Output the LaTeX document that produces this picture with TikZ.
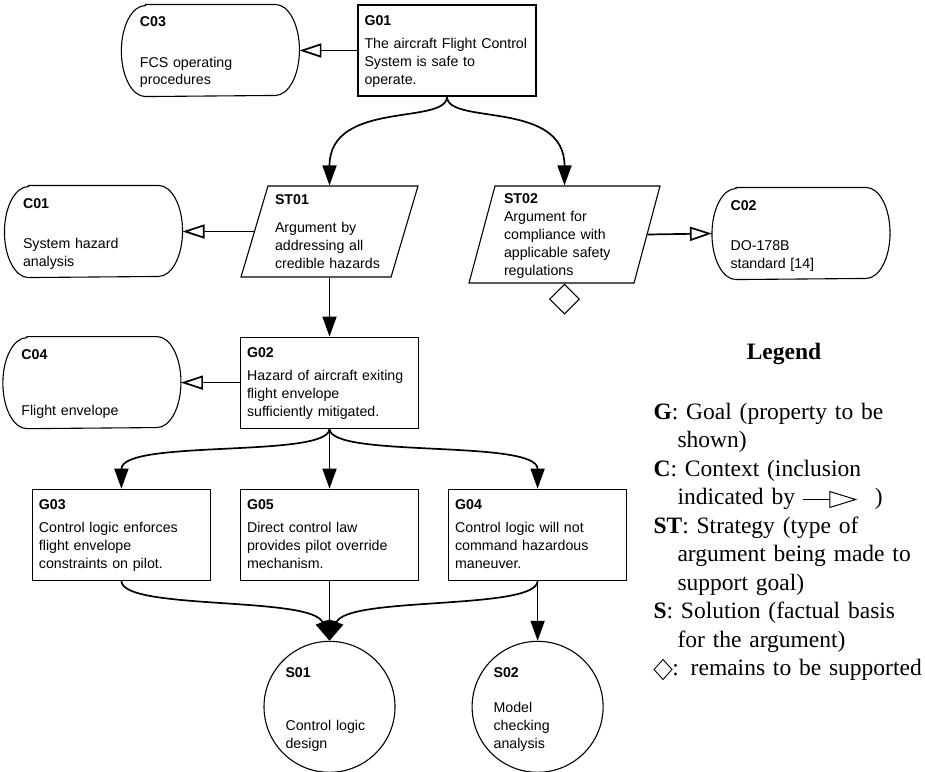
\documentclass[tikz,border=0pt]{standalone}
\usepackage{fontspec}
\setmainfont{Liberation Serif}
\setsansfont{Liberation Sans}
\usetikzlibrary{arrows.meta,positioning,shapes.geometric}

\begin{document}
\begin{tikzpicture}[x=1pt, y=-1pt,
  every node/.style={font=\sffamily\fontsize{14.2}{18}\selectfont, line width=1.1pt, inner ysep=0pt},
  goal/.style={draw, rectangle, align=left, text width=165pt, inner xsep=6.5pt, text height=20.5pt, text depth=70.5pt},
  ctx/.style={rectangle, align=left, text width=141pt, inner xsep=18pt, text height=22pt, text depth=69pt},
  strat/.style={draw, trapezium, trapezium stretches body=true, align=left, inner xsep=0pt},
  sol/.style={draw, circle, align=left, text width=88pt, inner sep=0pt, minimum size=131pt, text height=12pt, text depth=70pt},
  supported/.style={line width=1.7pt, -{Triangle[length=20pt,width=14pt]}},
  incontext/.style={line width=1.7pt, -{Triangle[open,length=22pt,width=14pt]}},
  legendfont/.style={font=\rmfamily\fontsize{23.5}{28.5}\selectfont}]
  \useasboundingbox (0,0) rectangle (925,771);

  % top goal and its context
  \node[goal] (G01) at (447,50.5) {\textbf{G01}\\[5pt]\mbox{The aircraft Flight Control}\\System is safe to\\operate.};
  \node[ctx, left=58pt of G01] (C03) {\textbf{C03}\\[22pt]FCS operating\\procedures};

  % strategies
  \node[strat, trapezium left angle=73.5, trapezium right angle=106.5, minimum width=177pt, minimum height=91pt,
        text width=109pt, text height=18pt, text depth=73pt] (ST01) at (329.5,231.5)
        {\textbf{ST01}\\[10.5pt]Argument by\\addressing all\\credible hazards};
  \node[strat, trapezium left angle=75, trapezium right angle=105, minimum width=191pt, minimum height=97pt,
        text width=121pt, text height=17pt, text depth=80pt] (ST02) at (564.5,234.5)
        {\textbf{ST02}\\Argument for\\compliance with\\applicable safety\\regulations};
  \node[draw, diamond, minimum width=30pt, minimum height=30pt, inner sep=0pt, below=0pt of ST02] (undev) {};
  \node[ctx] (C01) at (93.5,231.5) {\textbf{C01}\\[22pt]System hazard\\analysis};
  \node[ctx] (C02) at (801,233.5) {\textbf{C02}\\[22pt]DO-178B\\standard [14]};

  % hazard goal and sub-goals
  \node[goal, below=59pt of ST01] (G02) {\textbf{G02}\\[5pt]Hazard of aircraft exiting\\flight envelope\\sufficiently mitigated.};
  \node[ctx, left=59pt of G02] (C04) {\textbf{C04}\\[38pt]Flight envelope};
  \node[goal, below=60pt of G02] (G05) {\textbf{G05}\\[5pt]Direct control law\\provides pilot override\\mechanism.};
  \node[goal, left=29pt of G05] (G03) {\textbf{G03}\\[5pt]Control logic enforces\\flight envelope\\constraints on pilot.};
  \node[goal, right=29pt of G05] (G04) {\textbf{G04}\\[5pt]Control logic will not\\command hazardous\\maneuver.};

  % solutions
  \node[sol, below=60pt of G05] (S01) {\textbf{S01}\\[35pt]Control logic\\design};
  \node[sol, below=60pt of G04] (S02) {\textbf{S02}\\[17pt]Model\\checking\\analysis};

  % context outlines (flat top and bottom, elliptic ends)
  \foreach \c in {C01,C02,C03,C04}
    \draw[line width=1.1pt] ([xshift=24pt]\c.north west) -- ([xshift=-24pt]\c.north east)
      arc[start angle=90, end angle=-90, x radius=24pt, y radius=45.5pt]
      -- ([xshift=24pt]\c.south west)
      arc[start angle=270, end angle=90, x radius=24pt, y radius=45.5pt] -- cycle;

  \draw[incontext] (G01.west) -- (C03.east);
  \draw[supported] (G01.south) .. controls +(0,29) and +(0,-86) .. (ST01.north);
  \draw[supported] (G01.south) .. controls +(0,29) and +(0,-86) .. (ST02.north);
  \draw[incontext] (ST01.left side) -- (C01.east);
  \draw[incontext] (ST02.right side) -- (C02.west);
  \draw[supported] (ST01.south) -- (G02.north);
  \draw[incontext] (G02.west) -- (C04.east);
  \draw[supported] (G02.south) .. controls +(0,30) and +(0,-50) .. (G03.north);
  \draw[supported] (G02.south) -- (G05.north);
  \draw[supported] (G02.south) .. controls +(0,30) and +(0,-50) .. (G04.north);
  \draw[supported] (G03.south) .. controls +(0,30) and +(-17,-45) .. (S01.north);
  \draw[supported] (G05.south) -- (S01.north);
  \draw[supported] (G04.south) .. controls +(0,30) and +(17,-45) .. (S01.north);
  \draw[supported] (G04.south) -- (S02.north);

  % legend
  \node[legendfont, anchor=base, inner sep=0pt] (legtitle) at (784,359) {\textbf{Legend}};
  \node[legendfont, align=left, text width=272pt, inner sep=0pt, anchor=base west] (legend) at (653,419)
    {\textbf{G}: Goal (property to be\\
     \hspace*{24pt}shown)\\
     \textbf{C}: Context (inclusion\\
     \hspace*{24pt}indicated by \tikz[baseline=-5pt]\draw[line width=1pt,-{Triangle[open,length=28pt,width=17pt]}] (0,0) -- (54pt,0);\hspace{17pt})\\
     \textbf{ST}: Strategy (type of\\
     \hspace*{24pt}argument being made to\\
     \hspace*{24pt}support goal)\\
     \textbf{S}: Solution (factual basis\\
     \hspace*{24pt}for the argument)\\
     \tikz[baseline=-6pt]\draw[line width=0.9pt] (0,0) -- (9pt,10pt) -- (18pt,0) -- (9pt,-10pt) -- cycle;: remains to be supported};
\end{tikzpicture}
\end{document}
